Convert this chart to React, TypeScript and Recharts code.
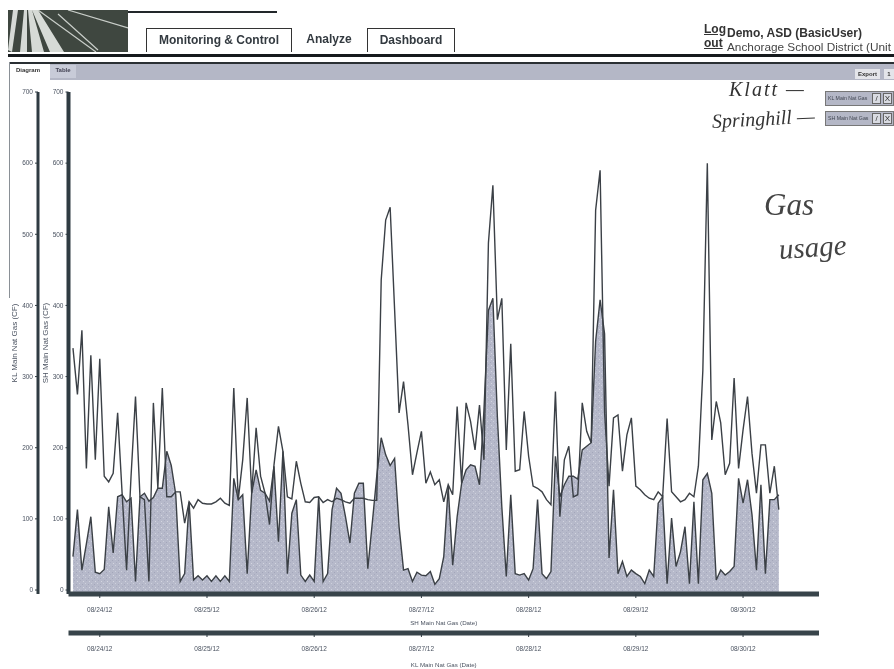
import * as React from "react"
import { Area, ComposedChart, Line, XAxis, YAxis } from "recharts"

// hourly gas readings, first reading is 6 hours before the 08/24/12 tick
const klValues = [
  340, 275, 365, 171, 330, 183, 325, 160, 152, 164, 249, 136, 28, 160, 272, 131, 127, 12, 263, 143,
  284, 131, 131, 138, 138, 94, 124, 115, 127, 122, 121, 121, 124, 129, 122, 119, 284, 127, 183, 270,
  136, 228, 160, 136, 92, 176, 230, 195, 131, 128, 181, 150, 124, 123, 130, 131, 123, 127, 124, 129,
  127, 124, 122, 129, 129, 129, 127, 126, 126, 436, 520, 538, 394, 249, 293, 232, 162, 193, 223, 150,
  166, 148, 155, 124, 148, 134, 258, 150, 263, 237, 197, 260, 183, 488, 569, 380, 410, 197, 346, 167,
  169, 251, 188, 146, 143, 138, 127, 120, 279, 103, 183, 202, 131, 134, 263, 223, 207, 534, 590, 250,
  146, 242, 246, 167, 218, 242, 146, 141, 134, 129, 127, 138, 131, 241, 138, 131, 124, 127, 136, 131,
  174, 309, 600, 211, 265, 235, 162, 178, 298, 171, 225, 272, 192, 136, 204, 204, 136, 174, 113,
]
const shValues = [
  47, 113, 28, 65, 103, 25, 23, 29, 117, 52, 131, 134, 124, 129, 12, 131, 136, 125, 130, 143,
  143, 195, 175, 135, 12, 23, 124, 14, 20, 14, 20, 12, 20, 12, 20, 12, 157, 127, 134, 23,
  136, 169, 140, 136, 125, 174, 68, 195, 23, 108, 127, 21, 12, 21, 12, 131, 12, 23, 113, 143,
  136, 103, 66, 136, 150, 150, 30, 94, 160, 214, 190, 175, 185, 89, 28, 30, 12, 25, 21, 20,
  26, 8, 16, 47, 145, 35, 103, 150, 169, 176, 174, 148, 253, 393, 410, 244, 117, 19, 134, 23,
  21, 23, 14, 30, 127, 23, 16, 26, 188, 131, 148, 160, 160, 156, 197, 202, 207, 350, 408, 360,
  45, 141, 23, 40, 19, 28, 23, 19, 9, 28, 19, 122, 131, 9, 101, 33, 54, 89, 9, 124,
  9, 155, 164, 136, 14, 28, 21, 26, 33, 157, 122, 155, 106, 28, 148, 23, 127, 127, 134,
]
const dateLabels = ["08/24/12", "08/25/12", "08/26/12", "08/27/12", "08/28/12", "08/29/12", "08/30/12"]
const dateTicks = [0, 24, 48, 72, 96, 120, 144]
const gasTicks = [0, 100, 200, 300, 400, 500, 600, 700]

const chartData = klValues.map((kl, i) => ({ hour: i - 6, kl, sh: shValues[i] }))

const FLOOR = -5.6
const axisDark = "#2f3b42"
const bandDark = "#38444a"
const inkColor = "#3b4046"
const tickStyle = { fontSize: 6.5, fill: "#4a5260", fontFamily: "Liberation Sans" }
const titleStyle = { fontSize: 6.2, fill: "#4a5260", fontFamily: "Liberation Sans" }
const yTitleStyle = { fontSize: 8, fill: "#4a5260", fontFamily: "Liberation Sans", textAnchor: "middle" as const }
const sans = "'Liberation Sans', Arial, sans-serif"
const hand = "'Liberation Serif', serif"

const formatDate = (h: number) => dateLabels[dateTicks.indexOf(h)]

function box(left: number, top: number, width: number, height: number, extra: React.CSSProperties = {}): React.CSSProperties {
  return { position: "absolute", left, top, width, height, ...extra }
}

function SeriesChip({ top, name }: { top: number; name: string }) {
  return (
    <div style={box(825, top, 69, 15, { background: "#b4b7c6", border: "1px solid #777", boxSizing: "border-box" })}>
      <span style={{ position: "absolute", left: 2, top: 3, fontFamily: sans, fontSize: 5.2, color: "#3e4450", whiteSpace: "nowrap" }}>{name}</span>
      <span style={{ position: "absolute", left: 46, top: 1, width: 9, height: 11, background: "#d9dbe2", border: "1px solid #666", boxSizing: "border-box", fontFamily: sans, fontSize: 8, lineHeight: "9px", textAlign: "center", color: "#333" }}>/</span>
      <span style={{ position: "absolute", left: 57, top: 1, width: 9, height: 11, background: "#d9dbe2", border: "1px solid #666", boxSizing: "border-box", fontFamily: sans, fontSize: 8, lineHeight: "9px", textAlign: "center", color: "#333" }}>X</span>
    </div>
  )
}

function Header() {
  const tabText: React.CSSProperties = { fontFamily: sans, fontWeight: 700, fontSize: 12, color: "#333a40", textAlign: "center", lineHeight: "22px" }
  return (
    <>
      <svg style={box(8, 10, 120, 42)} viewBox="0 0 120 42">
        <rect width="120" height="42" fill="#3f4740" />
        <path d="M0 40L5 0L10 0L4 42ZM12 42L16 0L19 0L19 42ZM24 42L20 0L24 0L36 42ZM42 42L24 0L30 0L56 42Z" fill="#d6dad6" />
        <path d="M30 0L88 42M50 4L90 40M60 0L120 18" stroke="#c9cec9" strokeWidth="1.2" fill="none" />
      </svg>
      <div style={box(128, 11, 149, 2, { background: "#22272a" })} />
      <div style={box(146, 28, 146, 24, { ...tabText, border: "1px solid #333", borderBottom: "none", boxSizing: "border-box" })}>Monitoring &amp; Control</div>
      <div style={box(300, 28, 58, 24, tabText)}>Analyze</div>
      <div style={box(367, 28, 88, 24, { ...tabText, border: "1px solid #333", borderBottom: "none", boxSizing: "border-box" })}>Dashboard</div>
      <div style={box(8, 54, 886, 3, { background: "#15191c" })} />
      <div style={box(10, 62, 884, 2, { background: "#2a2f33" })} />
      <div style={box(50, 64, 844, 16, { background: "#b4b7c6" })} />
      <div style={box(9, 62, 1, 236, { background: "#8a9096" })} />
      <div style={box(16, 67, 30, 10, { fontFamily: sans, fontWeight: 700, fontSize: 6, color: "#333" })}>Diagram</div>
      <div style={box(50, 65, 26, 13, { fontFamily: sans, fontWeight: 700, fontSize: 6, color: "#445", background: "#c8cbd8", textAlign: "center", lineHeight: "11px" })}>Table</div>
      <div style={box(855, 69, 25, 10, { fontFamily: sans, fontWeight: 700, fontSize: 6, color: "#333", background: "#e4e5ea", textAlign: "center", lineHeight: "10px" })}>Export</div>
      <div style={box(884, 69, 10, 10, { fontFamily: sans, fontWeight: 700, fontSize: 6, color: "#333", background: "#e4e5ea", textAlign: "center", lineHeight: "10px" })}>1</div>
      <div style={box(704, 22, 30, 30, { fontFamily: sans, fontWeight: 700, fontSize: 12, lineHeight: "14px", color: "#333", textDecoration: "underline" })}>Log<br />out</div>
      <div style={box(727, 26, 167, 14, { fontFamily: sans, fontWeight: 700, fontSize: 12, lineHeight: "14px", color: "#333", whiteSpace: "nowrap" })}>Demo, ASD (BasicUser)</div>
      <div style={box(727, 40, 167, 14, { fontFamily: sans, fontSize: 11.8, lineHeight: "14px", color: "#444", whiteSpace: "nowrap" })}>Anchorage School District (Unit</div>
      <SeriesChip top={91} name="KL Main Nat Gas" />
      <SeriesChip top={111} name="SH Main Nat Gas" />
      <div style={box(729, 78, 96, 30, { fontFamily: hand, fontStyle: "italic", fontSize: 20, color: "#333", letterSpacing: 2, whiteSpace: "nowrap" })}>Klatt —</div>
      <div style={box(712, 107, 113, 30, { fontFamily: hand, fontStyle: "italic", fontSize: 20, color: "#333", whiteSpace: "nowrap", transform: "rotate(-3deg)" })}>Springhill —</div>
      <div style={box(764, 187, 80, 40, { fontFamily: hand, fontStyle: "italic", fontSize: 31, color: "#444", whiteSpace: "nowrap" })}>Gas</div>
      <div style={box(779, 230, 90, 40, { fontFamily: hand, fontStyle: "italic", fontSize: 29, color: "#444", whiteSpace: "nowrap", transform: "rotate(-4deg)" })}>usage</div>
    </>
  )
}

export default function App() {
  return (
    <div style={{ position: "absolute", left: 0, top: 0, width: 894, height: 669, background: "#fff", overflow: "hidden", filter: "blur(0.4px)" }}>
      <Header />
      <div style={{ position: "absolute", left: 0, top: 0 }}>
        <ComposedChart width={894} height={669} data={chartData} margin={{ top: 92, right: 75, bottom: 0, left: 8 }}>
          <defs>
            {/* scanned halftone look of the filled series */}
            <pattern id="scanFill" width="6" height="6" patternUnits="userSpaceOnUse">
              <rect width="6" height="6" fill="#b6b9ca" />
              <rect x="1" y="1" width="1" height="1" fill="#cdd0dc" />
              <rect x="4" y="2" width="1" height="1" fill="#a3a6ba" />
              <rect x="2" y="4" width="1" height="1" fill="#a8abbf" />
              <rect x="5" y="5" width="1" height="1" fill="#d3d5e0" />
            </pattern>
          </defs>
          <YAxis
            yAxisId="a"
            width={30.5}
            domain={[FLOOR, 700]}
            ticks={gasTicks}
            interval={0}
            tick={tickStyle}
            tickSize={3}
            tickLine={{ stroke: axisDark }}
            axisLine={{ stroke: axisDark, strokeWidth: 4 }}
            label={{ value: "SH Main Nat Gas (CF)", angle: -90, position: "insideLeft", offset: 7, style: yTitleStyle }}
          />
          <YAxis
            yAxisId="b"
            width={30}
            domain={[FLOOR, 700]}
            ticks={gasTicks}
            interval={0}
            tick={tickStyle}
            tickSize={3}
            tickLine={{ stroke: axisDark }}
            axisLine={{ stroke: axisDark, strokeWidth: 3 }}
            label={{ value: "KL Main Nat Gas (CF)", angle: -90, position: "insideLeft", offset: 6, style: yTitleStyle }}
          />
          <XAxis
            xAxisId="a"
            dataKey="hour"
            type="number"
            height={39}
            domain={[-7, 161]}
            ticks={dateTicks}
            interval={0}
            tickFormatter={formatDate}
            tick={tickStyle}
            tickSize={4}
            tickMargin={9}
            tickLine={{ stroke: axisDark }}
            axisLine={{ stroke: bandDark, strokeWidth: 5 }}
            label={{ value: "SH Main Nat Gas (Date)", position: "insideBottom", offset: 8, style: titleStyle }}
          />
          <XAxis
            xAxisId="b"
            dataKey="hour"
            type="number"
            height={36}
            domain={[-7, 161]}
            ticks={dateTicks}
            interval={0}
            tickFormatter={formatDate}
            tick={tickStyle}
            tickSize={4}
            tickMargin={9}
            tickLine={{ stroke: axisDark }}
            axisLine={{ stroke: bandDark, strokeWidth: 5 }}
            label={{ value: "KL Main Nat Gas (Date)", position: "insideBottom", offset: 2, style: titleStyle }}
          />
          <Area
            yAxisId="a"
            xAxisId="a"
            type="linear"
            dataKey="sh"
            baseValue={FLOOR}
            stroke={inkColor}
            strokeWidth={1.4}
            fill="url(#scanFill)"
            fillOpacity={1}
            isAnimationActive={false}
          />
          <Line
            yAxisId="b"
            xAxisId="b"
            type="linear"
            dataKey="kl"
            stroke={inkColor}
            strokeWidth={1.4}
            dot={false}
            isAnimationActive={false}
          />
        </ComposedChart>
      </div>
    </div>
  )
}
